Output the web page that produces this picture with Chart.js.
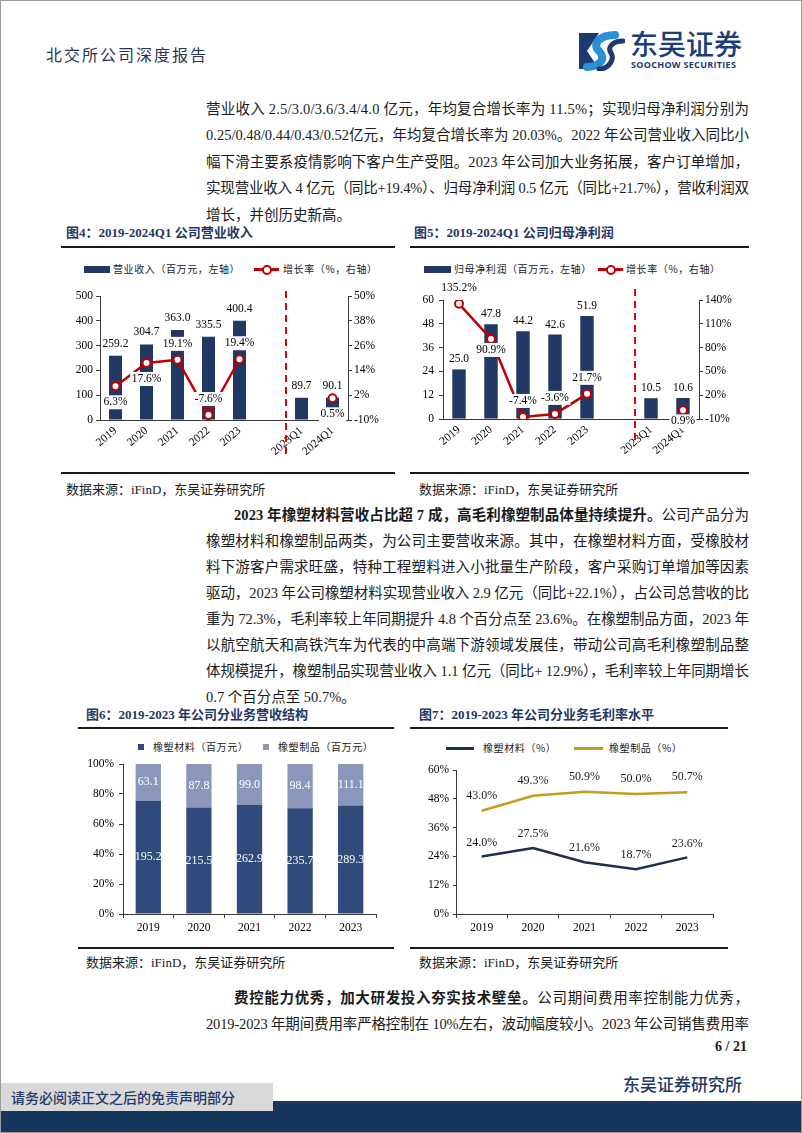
<!DOCTYPE html>
<html><head><meta charset="utf-8">
<script src="https://cdn.jsdelivr.net/npm/chart.js@4.4.0/dist/chart.umd.min.js"></script>
<style>
html,body{margin:0;padding:0;background:#fff;}
#page{position:relative;width:802px;height:1133px;overflow:hidden;box-sizing:border-box;border:1px solid #9a9a9a;font-family:"Liberation Serif","Noto Sans CJK SC",serif;color:#1a1a1a;}
.a{position:absolute;white-space:nowrap;}
.tl{position:absolute;height:26px;line-height:26px;font-size:14.5px;white-space:nowrap;}
.tl b{font-weight:bold;}
.ttl{position:absolute;font-size:13px;font-weight:bold;color:#1f3864;white-space:nowrap;line-height:16px;}
.src{position:absolute;font-size:13px;white-space:nowrap;line-height:16px;color:#1a1a1a;}
.rule{position:absolute;height:2px;background:#1a1a1a;}
.lg{position:absolute;font-family:"Noto Sans CJK SC",sans-serif;font-size:10px;letter-spacing:0.6px;line-height:12px;color:#222;white-space:nowrap;}
canvas{position:absolute;}
</style></head>
<body>
<div id="page">
  <!-- header -->
  <div class="a" style="left:45px;top:43px;font-size:16px;letter-spacing:2px;color:#2a3550;font-family:'Noto Sans CJK SC',sans-serif;line-height:20px;">北交所公司深度报告</div>
  <svg class="a" style="left:578px;top:30px" width="46" height="40" viewBox="0 0 46 40">
    <path d="M0 2 H20 L8 20 L20 38 H0 Z" fill="#1b3a6e"/>
    <path d="M36 4 C22 4 12 12 20 20 C28 28 20 36 8 36" fill="none" stroke="#2b8fd4" stroke-width="8" stroke-linecap="round"/>
    <path d="M44 10 C34 10 28 16 32 22 C36 28 30 38 20 38" fill="none" stroke="#1b3a6e" stroke-width="5" stroke-linecap="round"/>
  </svg>
  <div class="a" style="left:629px;top:25px;font-size:28px;line-height:34px;color:#1b3d78;font-family:'Noto Sans CJK SC',sans-serif;font-weight:500;">东吴证券</div>
  <div class="a" style="left:630px;top:58px;font-size:9px;line-height:11px;color:#1b3d78;font-family:'Open Sans',sans-serif;font-weight:bold;letter-spacing:0.3px;">SOOCHOW SECURITIES</div>

  <!-- paragraph 1 -->
  <div class="tl jl" data-w="543" style="left:205px;top:95px"><span>营业收入 2.5/3.0/3.6/3.4/4.0 亿元，年均复合增长率为 11.5%；实现归母净利润分别为</span></div>
  <div class="tl jl" data-w="543" style="left:205px;top:121px"><span>0.25/0.48/0.44/0.43/0.52亿元，年均复合增长率为 20.03%。2022 年公司营业收入同比小</span></div>
  <div class="tl jl" data-w="543" style="left:205px;top:148px"><span>幅下滑主要系疫情影响下客户生产受阻。2023 年公司加大业务拓展，客户订单增加，</span></div>
  <div class="tl jl" data-w="543" style="left:205px;top:174px"><span>实现营业收入 4 亿元（同比+19.4%）、归母净利润 0.5 亿元（同比+21.7%），营收利润双</span></div>
  <div class="tl" style="left:205px;top:201px"><span>增长，并创历史新高。</span></div>

  <!-- fig 4 / fig 5 titles -->
  <div class="ttl" style="left:65px;top:224px">图4：2019-2024Q1 公司营业收入</div>
  <div class="rule" style="left:60px;top:245px;width:334px"></div>
  <div class="ttl" style="left:413px;top:224px">图5：2019-2024Q1 公司归母净利润</div>
  <div class="rule" style="left:409px;top:245px;width:339px"></div>

  <!-- fig4 legend -->
  <div class="a" style="left:83px;top:265px;width:26px;height:7px;background:#1f3864"></div>
  <div class="lg" style="left:112px;top:262px">营业收入（百万元，左轴）</div>
  <div class="a" style="left:253px;top:267px;width:25px;height:2.5px;background:#c00000"></div>
  <div class="a" style="left:261px;top:264px;width:6px;height:6px;border:2px solid #c00000;border-radius:50%;background:#fff"></div>
  <div class="lg" style="left:282px;top:262px">增长率（%，右轴）</div>

  <!-- fig5 legend -->
  <div class="a" style="left:423px;top:265px;width:27px;height:7px;background:#1f3864"></div>
  <div class="lg" style="left:453px;top:262px">归母净利润（百万元，左轴）</div>
  <div class="a" style="left:597px;top:267px;width:25px;height:2.5px;background:#c00000"></div>
  <div class="a" style="left:605px;top:264px;width:6px;height:6px;border:2px solid #c00000;border-radius:50%;background:#fff"></div>
  <div class="lg" style="left:625px;top:262px">增长率（%，右轴）</div>

  <canvas id="c4" width="335" height="210" style="left:60px;top:255px"></canvas>
  <canvas id="c5" width="345" height="210" style="left:405px;top:255px"></canvas>

  <div class="rule" style="left:60px;top:471px;width:334px"></div>
  <div class="src" style="left:65px;top:481px">数据来源：iFinD，东吴证券研究所</div>
  <div class="rule" style="left:409px;top:471px;width:339px"></div>
  <div class="src" style="left:418px;top:481px">数据来源：iFinD，东吴证券研究所</div>

  <!-- paragraph 2 -->
  <div class="tl jl" data-w="515" style="left:233px;top:501px"><span><b>2023 年橡塑材料营收占比超 7 成，高毛利橡塑制品体量持续提升。</b>公司产品分为</span></div>
  <div class="tl jl" data-w="543" style="left:205px;top:527px"><span>橡塑材料和橡塑制品两类，为公司主要营收来源。其中，在橡塑材料方面，受橡胶材</span></div>
  <div class="tl jl" data-w="543" style="left:205px;top:553px"><span>料下游客户需求旺盛，特种工程塑料进入小批量生产阶段，客户采购订单增加等因素</span></div>
  <div class="tl jl" data-w="543" style="left:205px;top:579px"><span>驱动，2023 年公司橡塑材料实现营业收入 2.9 亿元（同比+22.1%），占公司总营收的比</span></div>
  <div class="tl jl" data-w="543" style="left:205px;top:605px"><span>重为 72.3%，毛利率较上年同期提升 4.8 个百分点至 23.6%。在橡塑制品方面，2023 年</span></div>
  <div class="tl jl" data-w="543" style="left:205px;top:631px"><span>以航空航天和高铁汽车为代表的中高端下游领域发展佳，带动公司高毛利橡塑制品整</span></div>
  <div class="tl jl" data-w="543" style="left:205px;top:657px"><span>体规模提升，橡塑制品实现营业收入 1.1 亿元（同比+ 12.9%），毛利率较上年同期增长</span></div>
  <div class="tl" style="left:205px;top:683px"><span>0.7 个百分点至 50.7%。</span></div>

  <!-- fig 6 / fig 7 -->
  <div class="ttl" style="left:85px;top:706px">图6：2019-2023 年公司分业务营收结构</div>
  <div class="rule" style="left:77px;top:726px;width:316px"></div>
  <div class="ttl" style="left:418px;top:706px">图7：2019-2023 年公司分业务毛利率水平</div>
  <div class="rule" style="left:409px;top:726px;width:318px"></div>

  <div class="a" style="left:137px;top:743px;width:6px;height:6px;background:#2f4b7c"></div>
  <div class="lg" style="left:152px;top:740px">橡塑材料（百万元）</div>
  <div class="a" style="left:262px;top:743px;width:6px;height:6px;background:#8a97ba"></div>
  <div class="lg" style="left:277px;top:740px">橡塑制品（百万元）</div>

  <div class="a" style="left:445px;top:746px;width:28px;height:2.5px;background:#1f2d4f"></div>
  <div class="lg" style="left:482px;top:741px">橡塑材料（%）</div>
  <div class="a" style="left:573px;top:746px;width:29px;height:2.5px;background:#c69c1e"></div>
  <div class="lg" style="left:608px;top:741px">橡塑制品（%）</div>

  <canvas id="c6" width="318" height="205" style="left:77px;top:740px"></canvas>
  <canvas id="c7" width="340" height="205" style="left:405px;top:740px"></canvas>

  <div class="rule" style="left:77px;top:946px;width:316px"></div>
  <div class="src" style="left:85px;top:954px">数据来源：iFinD，东吴证券研究所</div>
  <div class="rule" style="left:409px;top:946px;width:318px"></div>
  <div class="src" style="left:418px;top:954px">数据来源：iFinD，东吴证券研究所</div>

  <!-- paragraph 3 -->
  <div class="tl jl" data-w="515" style="left:233px;top:984px"><span><b>费控能力优秀，加大研发投入夯实技术壁垒。</b>公司期间费用率控制能力优秀，</span></div>
  <div class="tl jl" data-w="543" style="left:205px;top:1010px"><span>2019-2023 年期间费用率严格控制在 10%左右，波动幅度较小。2023 年公司销售费用率</span></div>

  <!-- footer -->
  <div class="a" style="right:54px;top:1037px;font-size:14px;font-weight:bold;line-height:18px;">6 / 21</div>
  <div class="a" style="left:0;top:1100px;width:802px;height:33px;background:#17365d"></div>
  <div class="a" style="left:0;top:1082px;width:272px;height:28px;background:#d9d9d9"></div>
  <div class="a" style="left:10px;top:1087px;font-size:14px;line-height:18px;color:#1f3864;font-family:'Noto Sans CJK SC',sans-serif;font-weight:500;">请务必阅读正文之后的免责声明部分</div>
  <div class="a" style="left:622px;top:1072px;font-size:17px;line-height:22px;color:#1f3864;font-family:'Noto Sans CJK SC',sans-serif;font-weight:500;">东吴证券研究所</div>
</div>

<script>
// ---------- data ----------
const revCats = ['2019','2020','2021','2022','2023','','2023Q1','2024Q1'];
const revenue = [259.2, 304.7, 363.0, 335.5, 400.4, null, 89.7, 90.1];
const revGrowth = [6.3, 17.6, 19.1, -7.6, 19.4, null, null, 0.5];
const revLeftTicks = [0, 100, 200, 300, 400, 500];
const revRightTicks = [-10, 2, 14, 26, 38, 50];

const profitCats = ['2019','2020','2021','2022','2023','','2023Q1','2024Q1'];
const netProfit = [25.0, 47.8, 44.2, 42.6, 51.9, null, 10.5, 10.6];
const profitGrowth = [135.2, 90.9, -7.4, -3.6, 21.7, null, null, 0.9];
const profitLeftTicks = [0, 12, 24, 36, 48, 60];
const profitRightTicks = [-10, 20, 50, 80, 110, 140];

const segYears = ['2019','2020','2021','2022','2023'];
const rubberMaterials = [195.2, 215.5, 262.9, 235.7, 289.3];
const rubberProducts = [63.1, 87.8, 99.0, 98.4, 111.1];
const shareTicks = [0, 20, 40, 60, 80, 100];

const marginYears = ['2019','2020','2021','2022','2023'];
const marginMaterials = [24.0, 27.5, 21.6, 18.7, 23.6];
const marginProducts = [43.0, 49.3, 50.9, 50.0, 50.7];
const marginTicks = [0, 12, 24, 36, 48, 60];

// ---------- text justification ----------
document.querySelectorAll('.jl').forEach(el => {
  const span = el.firstElementChild;
  const target = parseFloat(el.dataset.w);
  const natural = span.getBoundingClientRect().width;
  const n = [...span.textContent].length;
  span.style.letterSpacing = ((target - natural) / (n - 1)) + 'px';
});

// ---------- chart helpers ----------
const SERIF = '"Liberation Serif", "Noto Sans CJK SC", serif';
const AX = '#3a3a3a';
const NAVY = '#1f3864';
const RED = '#c00000';
const TF = {family: SERIF, size: 11.5};

function ticksFrom(arr){ return s => { s.ticks = arr.map(v => ({value: v})); }; }

function labelsPlugin(items){
  return {
    id: 'vlabels',
    afterDatasetsDraw(chart){
      const ctx = chart.ctx;
      items.forEach(it => {
        const meta = chart.getDatasetMeta(it.ds);
        const src = it.values || chart.data.datasets[it.ds].data;
        meta.data.forEach((el, i) => {
          const v = src[i];
          if (v == null) return;
          const txt = it.fmt(v);
          const p = el.getProps(['x', 'y', 'base'], true);
          let x = p.x, y;
          if (it.mode === 'center') y = (p.y + p.base) / 2;
          else {
            const pos = it.pos ? it.pos[i] : 'top';
            y = p.y + (pos === 'top' ? -it.off : (it.offBot || it.off));
          }
          ctx.save();
          ctx.font = it.font;
          ctx.textAlign = 'center';
          ctx.textBaseline = 'middle';
          if (it.bg) {
            const w = ctx.measureText(txt).width;
            ctx.fillStyle = it.bg;
            ctx.fillRect(x - w / 2 - 1.5, y - 7, w + 3, 14);
          }
          ctx.fillStyle = it.color;
          ctx.fillText(txt, x, y);
          ctx.restore();
        });
      });
    }
  };
}

function dividerPlugin(after, topExtra, bottomExtra){
  return {
    id: 'divider',
    beforeDatasetsDraw(chart){
      const xs = chart.scales.x, ca = chart.chartArea, ctx = chart.ctx;
      const x = (xs.getPixelForValue(after) + xs.getPixelForValue(after + 1)) / 2;
      ctx.save();
      ctx.strokeStyle = '#e60000';
      ctx.lineWidth = 2;
      ctx.setLineDash([7, 5]);
      ctx.beginPath();
      ctx.moveTo(x, ca.top - topExtra);
      ctx.lineTo(x, ca.bottom + bottomExtra);
      ctx.stroke();
      ctx.restore();
    }
  };
}

function comboChart(id, cats, bars, growth, lTicks, rTicks, geo, pctPos){
  new Chart(document.getElementById(id), {
    type: 'bar',
    data: {
      labels: cats,
      datasets: [
        {type: 'line', data: growth, yAxisID: 'y1', order: 0, borderColor: RED, borderWidth: 2.5,
         pointRadius: 4, pointBorderWidth: 2, pointBackgroundColor: '#fff', pointBorderColor: RED,
         spanGaps: false, tension: 0},
        {type: 'bar', data: bars, yAxisID: 'y', order: 1, backgroundColor: NAVY,
         categoryPercentage: 1, barPercentage: 0.42}
      ]
    },
    options: {
      responsive: false, animation: false, events: [],
      layout: {padding: {left: 0, right: 0, top: geo.top, bottom: 0}},
      plugins: {legend: {display: false}, tooltip: {enabled: false}},
      scales: {
        x: {
          offset: true,
          grid: {display: false, drawTicks: false},
          border: {display: true, color: AX, width: 1},
          ticks: {font: TF, color: '#000', minRotation: 40, maxRotation: 40, autoSkip: false, padding: 4},
          afterFit: s => { s.height = geo.xh; }
        },
        y: {
          position: 'left', min: lTicks[0], max: lTicks[lTicks.length - 1],
          afterBuildTicks: ticksFrom(lTicks),
          grid: {display: true, drawOnChartArea: false, drawTicks: true, tickLength: 4, color: AX},
          border: {display: true, color: AX, width: 1},
          ticks: {font: TF, color: '#000', padding: geo.lp, callback: v => v},
          afterFit: s => { s.width = geo.lw; }
        },
        y1: {
          position: 'right', min: rTicks[0], max: rTicks[rTicks.length - 1],
          afterBuildTicks: ticksFrom(rTicks),
          grid: {display: true, drawOnChartArea: false, drawTicks: true, tickLength: 4, color: AX},
          border: {display: true, color: AX, width: 1},
          ticks: {font: TF, color: '#000', padding: 2, callback: v => v + '%'},
          afterFit: s => { s.width = geo.rw; }
        }
      }
    },
    plugins: [
      dividerPlugin(5, geo.dTop, geo.dBot),
      labelsPlugin([
        {ds: 1, fmt: v => v.toFixed(1), off: geo.barOff, font: '11.5px ' + SERIF, color: '#000', bg: '#fff'},
        {ds: 0, fmt: v => v.toFixed(1) + '%', off: 16, offBot: geo.pctBot, pos: pctPos, font: '11.5px ' + SERIF, color: '#000', bg: '#fff'}
      ])
    ]
  });
}

comboChart('c4', revCats, revenue, revGrowth, revLeftTicks, revRightTicks,
  {top: 40, xh: 46, lw: 39, rw: 48, lp: 3, dTop: 5, dBot: 34, barOff: 12, pctBot: 16},
  ['bottom','bottom','top','top','top',null,null,'bottom']);

comboChart('c5', profitCats, netProfit, profitGrowth, profitLeftTicks, profitRightTicks,
  {top: 44, xh: 47, lw: 37, rw: 52, lp: 5, dTop: 11, dBot: 24, barOff: 10, pctBot: 11},
  ['top','bottom','top','top','top',null,null,'bottom']);

// ---------- fig 6: 100% stacked ----------
const totals = rubberMaterials.map((v, i) => v + rubberProducts[i]);
const matShare = rubberMaterials.map((v, i) => v / totals[i] * 100);
const prodShare = rubberProducts.map((v, i) => v / totals[i] * 100);

new Chart(document.getElementById('c6'), {
  type: 'bar',
  data: {
    labels: segYears,
    datasets: [
      {data: matShare, backgroundColor: '#2f4b7c', categoryPercentage: 1, barPercentage: 0.5},
      {data: prodShare, backgroundColor: '#8a97ba', categoryPercentage: 1, barPercentage: 0.5}
    ]
  },
  options: {
    responsive: false, animation: false, events: [],
    layout: {padding: {left: 0, right: 20, top: 23, bottom: 0}},
    plugins: {legend: {display: false}, tooltip: {enabled: false}},
    scales: {
      x: {
        stacked: true,
        grid: {display: true, drawOnChartArea: false, drawTicks: true, tickLength: 4, color: AX, offset: true},
        border: {display: true, color: AX, width: 1},
        ticks: {font: TF, color: '#000', padding: 3},
        afterFit: s => { s.height = 32; }
      },
      y: {
        stacked: true, min: 0, max: 100,
        afterBuildTicks: ticksFrom(shareTicks),
        grid: {display: true, drawOnChartArea: false, drawTicks: true, tickLength: 4, color: AX},
        border: {display: true, color: AX, width: 1},
        ticks: {font: TF, color: '#000', padding: 5, callback: v => v + '%'},
        afterFit: s => { s.width = 45; }
      }
    }
  },
  plugins: [labelsPlugin([
    {ds: 0, mode: 'center', values: rubberMaterials, fmt: v => v.toFixed(1), font: '12px ' + SERIF, color: '#fff'},
    {ds: 1, mode: 'center', values: rubberProducts, fmt: v => v.toFixed(1), font: '12px ' + SERIF, color: '#fff'}
  ])]
});

// ---------- fig 7: lines ----------
new Chart(document.getElementById('c7'), {
  type: 'line',
  data: {
    labels: marginYears,
    datasets: [
      {data: marginMaterials, borderColor: '#1f2d4f', borderWidth: 2.5, pointRadius: 0, tension: 0},
      {data: marginProducts, borderColor: '#c69c1e', borderWidth: 2.5, pointRadius: 0, tension: 0}
    ]
  },
  options: {
    responsive: false, animation: false, events: [],
    layout: {padding: {left: 0, right: 33, top: 29, bottom: 0}},
    plugins: {legend: {display: false}, tooltip: {enabled: false}},
    scales: {
      x: {
        offset: true,
        grid: {display: true, drawOnChartArea: false, drawTicks: true, tickLength: 4, color: AX, offset: true},
        border: {display: true, color: AX, width: 1},
        ticks: {font: TF, color: '#000', padding: 3},
        afterFit: s => { s.height = 32; }
      },
      y: {
        min: 0, max: 60,
        afterBuildTicks: ticksFrom(marginTicks),
        grid: {display: true, drawOnChartArea: false, drawTicks: true, tickLength: 3, color: AX},
        border: {display: true, color: AX, width: 1},
        ticks: {font: TF, color: '#000', padding: 4, callback: v => v + '%'},
        afterFit: s => { s.width = 50; }
      }
    }
  },
  plugins: [labelsPlugin([
    {ds: 0, fmt: v => v.toFixed(1) + '%', off: 14, font: '12px ' + SERIF, color: '#1a1a1a'},
    {ds: 1, fmt: v => v.toFixed(1) + '%', off: 15, font: '12px ' + SERIF, color: '#1a1a1a'}
  ])]
});
</script>
</body></html>
